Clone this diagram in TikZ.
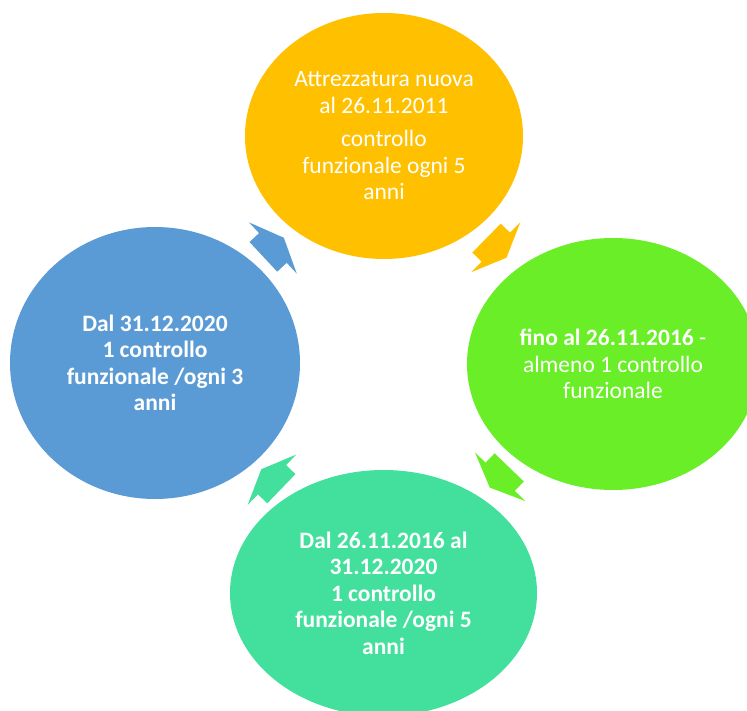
\documentclass[tikz,border=0pt]{standalone}
\usepackage{fontspec}
\setmainfont{Carlito}
\usetikzlibrary{shapes.geometric}
\definecolor{orangeC}{HTML}{FFC000}
\definecolor{blueC}{HTML}{5B9BD5}
\definecolor{greenC}{HTML}{6AEE28}
\definecolor{tealC}{HTML}{42E09C}
\tikzset{
  stage/.style={ellipse, inner sep=0pt, outer sep=0pt, text=white, align=center,
    font=\fontsize{23.5}{26.5}\selectfont},
  cyclearrow/.pic={\fill[pic actions] (-14,-20.3) -- (-1,-20.3) -- (-1,-35) -- (14,0)
     -- (-1,35) -- (-1,20.3) -- (-14,20.3) -- cycle;}
}
\begin{document}
\begin{tikzpicture}[x=1pt,y=-1pt]
\useasboundingbox (0,0) rectangle (747,711);
% stages
\node[stage, fill=orangeC, minimum width=278pt, minimum height=246pt] (orange) at (384,136)
  {Attrezzatura nuova\\al 26.11.2011\\[7pt]controllo\\funzionale ogni 5\\anni};
\node[stage, fill=greenC, minimum width=292pt, minimum height=252pt] (green) at (613,364)
  {\textbf{fino al 26.11.2016} -\\almeno 1 controllo\\funzionale};
\node[stage, fill=tealC, minimum width=307pt, minimum height=246pt] (teal) at (383.5,593)
  {\textbf{Dal 26.11.2016 al}\\\textbf{31.12.2020}\\\textbf{1 controllo}\\\textbf{funzionale /ogni 5}\\\textbf{anni}};
\node[stage, fill=blueC, minimum width=290pt, minimum height=272pt] (blue) at (155,363)
  {\textbf{Dal 31.12.2020}\\\textbf{1 controllo}\\\textbf{funzionale /ogni 3}\\\textbf{anni}};
% cycle arrows
\pic[fill=orangeC, rotate=-44.5] at (496.5,247.9) {cyclearrow};
\pic[fill=greenC, rotate=-134] at (499.5,477.5) {cyclearrow};
\pic[fill=tealC, rotate=136] at (271.3,479) {cyclearrow};
\pic[fill=blueC, rotate=43] at (273.6,247.3) {cyclearrow};
\end{tikzpicture}
\end{document}
